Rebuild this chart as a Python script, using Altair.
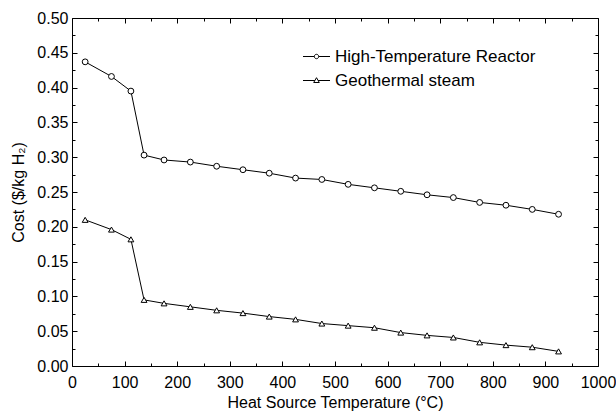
import altair as alt
import pandas as pd

FONT = "Liberation Sans"

# Heat source temperature (°C) at which each cost was evaluated
temps = [25, 75, 112, 137, 175, 225, 275, 325, 375, 425,
         475, 525, 575, 625, 675, 725, 775, 825, 875, 925]

# Hydrogen production cost ($/kg H2) for each heat source
htr_cost = [0.437, 0.416, 0.395, 0.303, 0.296, 0.293, 0.287, 0.282, 0.277, 0.270,
            0.268, 0.261, 0.256, 0.251, 0.246, 0.242, 0.235, 0.231, 0.225, 0.218]
geo_cost = [0.210, 0.196, 0.182, 0.095, 0.090, 0.085, 0.080, 0.076, 0.071, 0.067,
            0.061, 0.058, 0.055, 0.048, 0.044, 0.041, 0.034, 0.030, 0.027, 0.021]

series_names = ["High-Temperature Reactor", "Geothermal steam"]

# Axis tick positions
x_major = [0, 100, 200, 300, 400, 500, 600, 700, 800, 900, 1000]
x_minor = [50, 150, 250, 350, 450, 550, 650, 750, 850, 950]
y_major = [0.0, 0.05, 0.10, 0.15, 0.20, 0.25, 0.30, 0.35, 0.40, 0.45, 0.50]
y_minor = [0.025, 0.075, 0.125, 0.175, 0.225, 0.275, 0.325, 0.375, 0.425, 0.475]

df = pd.DataFrame({
    "temp": temps + temps,
    "cost": htr_cost + geo_cost,
    "series": [series_names[0]] * len(temps) + [series_names[1]] * len(temps),
})

x_scale = alt.Scale(domain=[0, 1000], nice=False, zero=False)
y_scale = alt.Scale(domain=[0, 0.5], nice=False)

MAJOR = 5
MINOR = 3


def tick_axis(orient, values, size, **kw):
    """Ticks drawn inside the frame: the axis is pulled inward by its tick length."""
    return alt.Axis(orient=orient, values=values, offset=-size, tickSize=size,
                    domain=False, grid=False, tickColor="black", tickWidth=1,
                    labelFlush=False, labelOverlap=False, **kw)


base = alt.Chart(df)

# connecting lines, with the labelled bottom/left axes
lines = base.mark_line(color="black", strokeWidth=1).encode(
    x=alt.X("temp:Q", scale=x_scale,
            axis=tick_axis("bottom", x_major, MAJOR, labels=True, labelPadding=8,
                           format="d", title="Heat Source Temperature (°C)",
                           titlePadding=4)),
    y=alt.Y("cost:Q", scale=y_scale,
            axis=tick_axis("left", y_major, MAJOR, labels=True, labelPadding=4,
                           format=".2f", title="Cost ($/kg H₂)", titlePadding=10)),
    detail="series:N",
)

# open markers, with the top/right major ticks
points = base.mark_point(filled=True, fill="white", stroke="black", strokeWidth=1,
                         opacity=1, size=34).encode(
    x=alt.X("temp:Q", scale=x_scale,
            axis=tick_axis("top", x_major, MAJOR, labels=False, title="")),
    y=alt.Y("cost:Q", scale=y_scale,
            axis=tick_axis("right", y_major, MAJOR, labels=False, title="")),
    shape=alt.Shape("series:N",
                    scale=alt.Scale(domain=series_names, range=["circle", "triangle-up"]),
                    legend=None),
)

# legend symbols: a short line with the series marker in its middle
circle_sym = ("M-1.35,0L-0.22,0M0.22,0L1.35,0"
              "M-0.22,0A0.22,0.22,0,1,1,0.22,0A0.22,0.22,0,1,1,-0.22,0Z")
tri_sym = "M-1.35,0L-0.16,0M0.16,0L1.35,0M-0.28,0.2L0,-0.28L0.28,0.2Z"

legend_layer = base.transform_filter("datum.temp < 0").mark_point(
    color="black", strokeWidth=1, opacity=1
).encode(
    x=alt.X("temp:Q", scale=x_scale,
            axis=tick_axis("bottom", x_minor, MINOR, labels=False, title="")),
    y=alt.Y("cost:Q", scale=y_scale,
            axis=tick_axis("left", y_minor, MINOR, labels=False, title="")),
    shape=alt.Shape("series:N",
                    scale=alt.Scale(domain=series_names, range=[circle_sym, tri_sym]),
                    legend=alt.Legend(
                        title=None, orient="none", legendX=234, legendY=28,
                        symbolSize=400, symbolStrokeColor="black",
                        symbolStrokeWidth=1, symbolOpacity=1,
                        labelFont=FONT, labelFontSize=17,
                        labelColor="black", labelOffset=8, rowPadding=5,
                        padding=0, labelLimit=400)),
)

# minor ticks on the top and right edges
minor_top_right = base.transform_filter("datum.temp < 0").mark_point(opacity=0).encode(
    x=alt.X("temp:Q", scale=x_scale,
            axis=tick_axis("top", x_minor, MINOR, labels=False, title="")),
    y=alt.Y("cost:Q", scale=y_scale,
            axis=tick_axis("right", y_minor, MINOR, labels=False, title="")),
)

chart = (
    alt.layer(lines, points, legend_layer, minor_top_right)
    .resolve_scale(shape="independent")
    .resolve_axis(x="independent", y="independent")
    .properties(
        width=526, height=348, autosize="none", background="white",
        padding={"left": 72, "top": 18, "right": 18, "bottom": 49},
    )
    .configure_view(stroke="black", strokeWidth=1)
    .configure_axis(labelFont=FONT, titleFont=FONT, labelFontSize=16,
                    titleFontSize=16, labelColor="black", titleColor="black",
                    titleFontWeight="normal")
)

chart.save("out.html", embed_options={"renderer": "svg", "actions": False})
